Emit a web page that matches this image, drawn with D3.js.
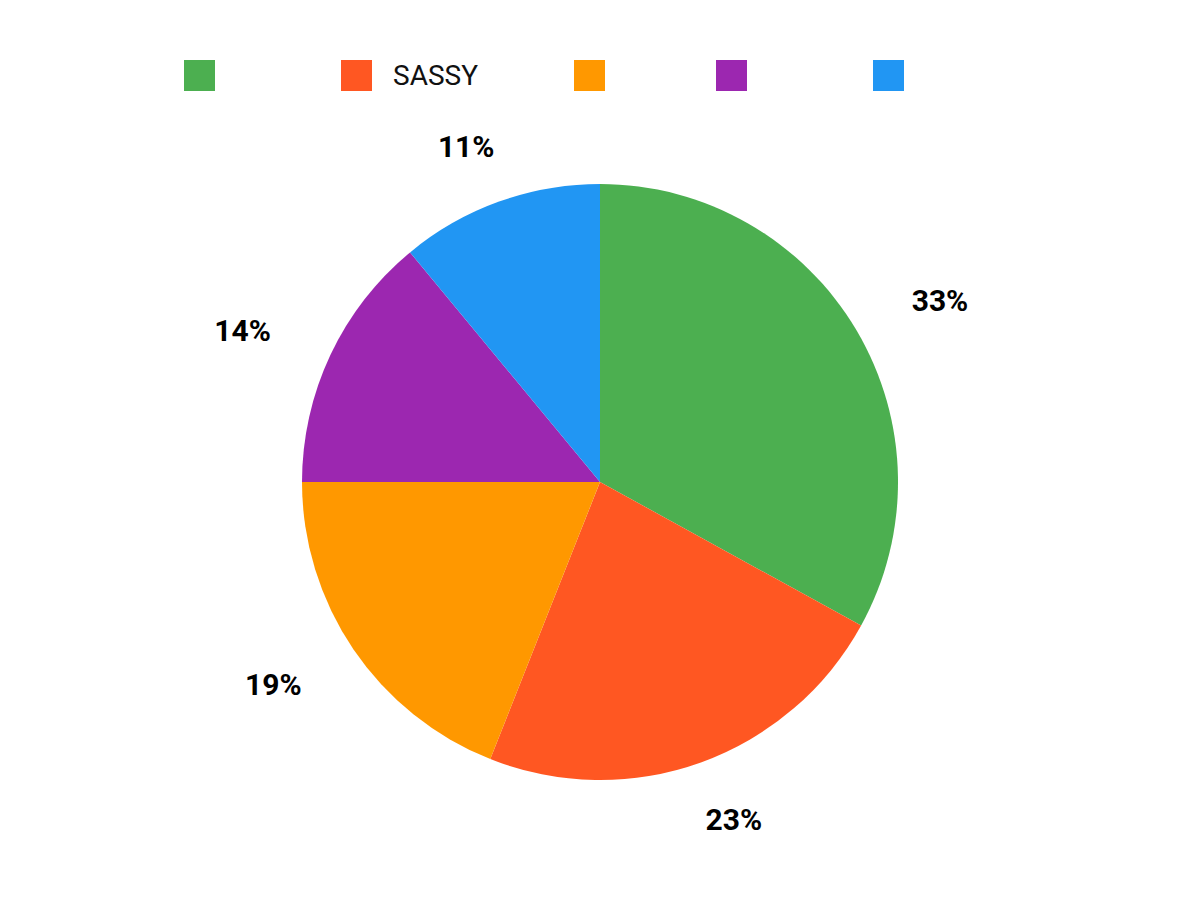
<!DOCTYPE html>
<html>
<head>
<meta charset="utf-8">
<script src="https://cdn.jsdelivr.net/npm/d3@7"></script>
<style>
  body { margin: 0; background: #fff; }
  svg { display: block; font-family: Roboto, "Noto Sans", sans-serif; }
</style>
</head>
<body>
<svg id="chart"></svg>
<script>
const labels = ["", "SASSY", "", "", ""];
const values = [33, 23, 19, 14, 11];
const colors = ["#4caf50", "#ff5722", "#ff9800", "#9c27b0", "#2196f3"];

const width = 1200;
const height = 900;
const cx = 600, cy = 482, radius = 298;

const svg = d3.select("#chart")
  .attr("width", width)
  .attr("height", height);

const data = values.map((v, i) => ({ label: labels[i], value: v, color: colors[i] }));

const pie = d3.pie()
  .value(d => d.value)
  .sort(null);

const arc = d3.arc()
  .innerRadius(0)
  .outerRadius(radius);

const labelArc = d3.arc()
  .innerRadius(358)
  .outerRadius(358);

const arcs = pie(data);

const g = svg.append("g")
  .attr("transform", `translate(${cx},${cy})`);

g.selectAll("path")
  .data(arcs)
  .enter().append("path")
  .attr("d", arc)
  .attr("fill", d => d.data.color);

// labels sit on a slightly wider ellipse than the pie
g.selectAll("text.pct")
  .data(arcs)
  .enter().append("text")
  .attr("class", "pct")
  .attr("x", d => labelArc.centroid(d)[0] * 395 / 358)
  .attr("y", d => labelArc.centroid(d)[1] + 1)
  .attr("text-anchor", "middle")
  .attr("dominant-baseline", "central")
  .attr("font-size", 30)
  .attr("font-weight", "bold")
  .attr("fill", "#000")
  .text(d => Math.round(d.value / d3.sum(values) * 100) + "%");

// legend
const legendX = [184, 341, 574, 716, 873];
const legend = svg.append("g")
  .selectAll("g")
  .data(data)
  .enter().append("g")
  .attr("transform", (d, i) => `translate(${legendX[i]},60)`);

legend.append("rect")
  .attr("width", 31)
  .attr("height", 31)
  .attr("fill", d => d.color);

legend.append("text")
  .attr("x", 52)
  .attr("y", 15.5)
  .attr("dominant-baseline", "central")
  .attr("font-size", 28)
  .attr("fill", "#111")
  .text(d => d.label);
</script>
</body>
</html>
